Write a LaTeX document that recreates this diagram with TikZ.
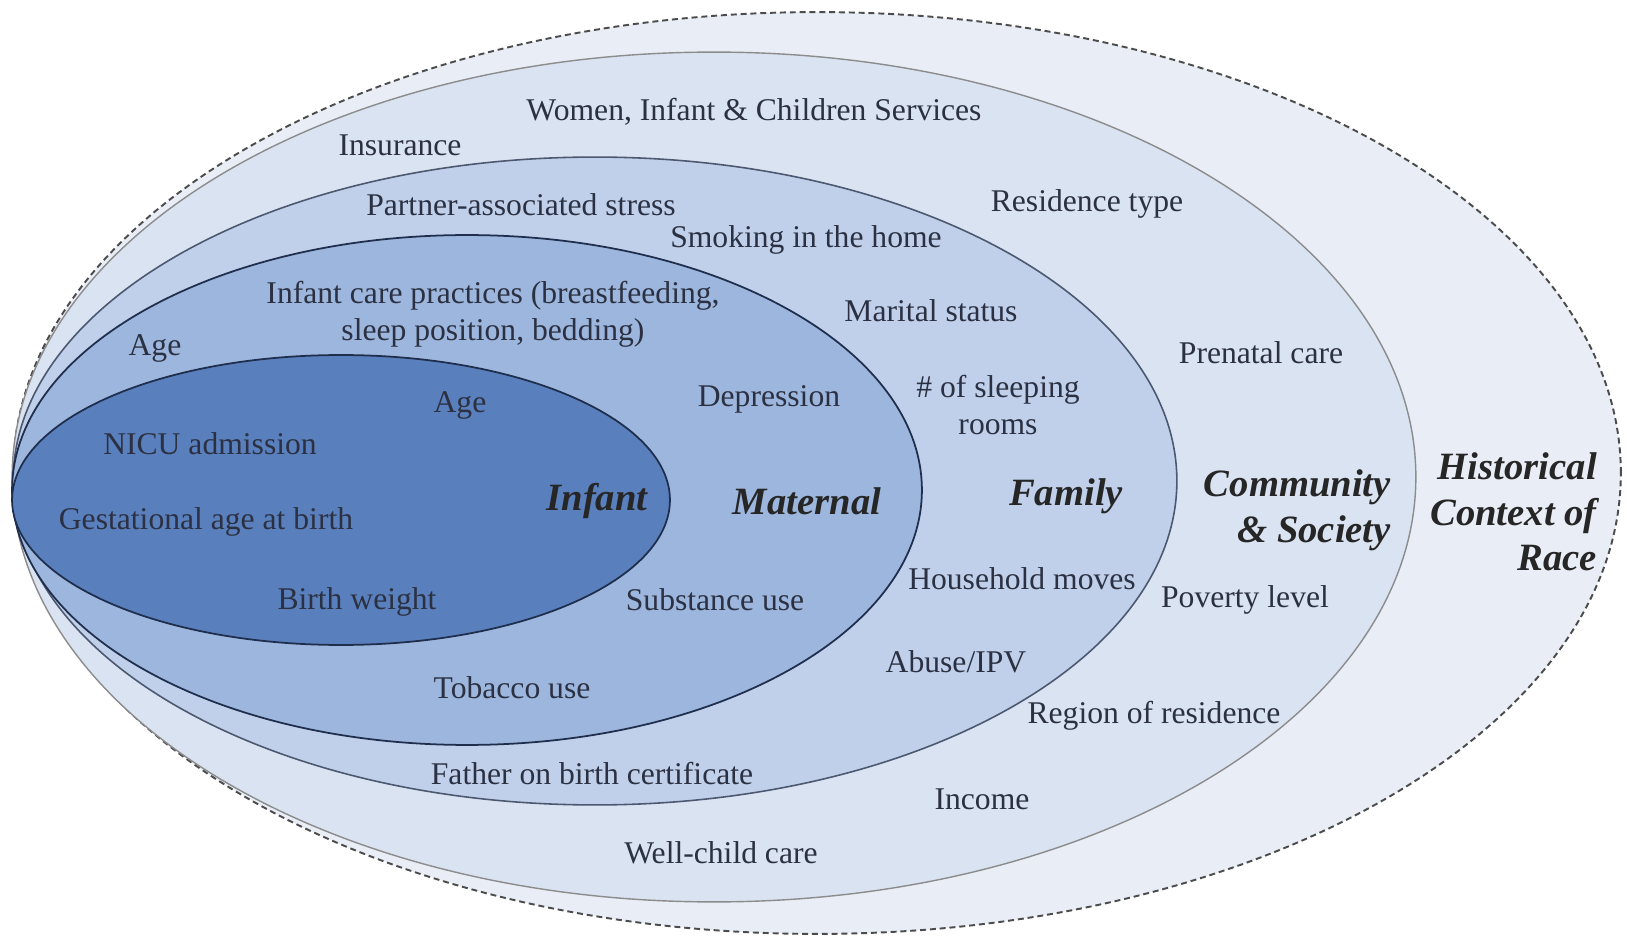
\documentclass[tikz,border=0pt]{standalone}
\usepackage{fontspec}
\setmainfont{Liberation Serif}
\definecolor{raceFill}{HTML}{E8EDF6}
\definecolor{commFill}{HTML}{DAE3F1}
\definecolor{famFill}{HTML}{C0D0EA}
\definecolor{matFill}{HTML}{9DB6DD}
\definecolor{infFill}{HTML}{5A7FBD}
\definecolor{ringLine}{HTML}{1F2E4C}
\definecolor{factorText}{HTML}{2B3142}

\begin{document}
\begin{tikzpicture}[x=0.02cm, y=-0.02cm,
  factor/.style={font=\fontsize{18}{21}\selectfont, text=factorText, align=center},
  level/.style={font=\fontsize{22}{26}\selectfont\bfseries\itshape, text=black!85, align=right, anchor=east}]

 \useasboundingbox (0,0) rectangle (1627,942);

 % rings, outside in
 \fill[raceFill] (817,473) ellipse [x radius=16.08cm, y radius=9.22cm];
 \draw[black!70, line width=1.1pt, dash pattern=on 3.4pt off 2.2pt] (817,473) ellipse [x radius=16.08cm, y radius=9.22cm];
 \filldraw[fill=commFill, draw=black!45, line width=0.8pt] (714,477) ellipse [x radius=14.04cm, y radius=8.5cm];
 \filldraw[fill=famFill, draw=ringLine!80, line width=0.9pt] (595,481) ellipse [x radius=11.64cm, y radius=6.48cm];
 \filldraw[fill=matFill, draw=ringLine, line width=1pt] (467,490) ellipse [x radius=9.1cm, y radius=5.1cm];
 \filldraw[fill=infFill, draw=ringLine, line width=1pt] (341,500) ellipse [x radius=6.58cm, y radius=2.9cm];

 % level names
 \node[level, name=Race     ] at (1603,512) {Historical\\Context of\\Race};
 \node[level, name=Community] at (1397,510) {Community\\\& Society};
 \node[level, anchor=center, name=Family  ] at (1066,496) {Family};
 \node[level, anchor=center, name=Maternal] at (807,501)  {Maternal};
 \node[level, anchor=center, name=Infant  ] at (597,501)  {Infant};

 % community & society
 \node[factor, name=WIC      ] at (754,112)  {Women, Infant \& Children Services};
 \node[factor, name=Insurance] at (400,145)  {Insurance};
 \node[factor, name=ResType  ] at (1087,204) {Residence type};
 \node[factor, name=Prenatal ] at (1261,353) {Prenatal care};
 \node[factor, name=Poverty  ] at (1245,600) {Poverty level};
 \node[factor, name=Region   ] at (1154,716) {Region of residence};
 \node[factor, name=Income   ] at (982,799)  {Income};
 \node[factor, name=WellChild] at (721,853)  {Well-child care};

 % family
 \node[factor, name=Partner  ] at (521,205)  {Partner-associated stress};
 \node[factor, name=Smoking  ] at (806,240)  {Smoking in the home};
 \node[factor, name=Marital  ] at (931,311)  {Marital status};
 \node[factor, name=Rooms    ] at (998,405)  {\# of sleeping\\rooms};
 \node[factor, name=Moves    ] at (1022,579) {Household moves};
 \node[factor, name=Abuse    ] at (956,662)  {Abuse/IPV};
 \node[factor, name=Father   ] at (592,774)  {Father on birth certificate};

 % maternal
 \node[factor, name=CarePract] at (493,314)  {Infant care practices (breastfeeding,\\sleep position, bedding)};
 \node[factor, name=MatAge   ] at (155,348)  {Age};
 \node[factor, name=Depress  ] at (769,399)  {Depression};
 \node[factor, name=Substance] at (715,600)  {Substance use};
 \node[factor, name=Tobacco  ] at (512,688)  {Tobacco use};

 % infant
 \node[factor, name=InfAge   ] at (460,405)  {Age};
 \node[factor, name=NICU     ] at (210,444)  {NICU admission};
 \node[factor, name=GestAge  ] at (206,522)  {Gestational age at birth};
 \node[factor, name=BirthWt  ] at (357,602)  {Birth weight};
\end{tikzpicture}
\end{document}
